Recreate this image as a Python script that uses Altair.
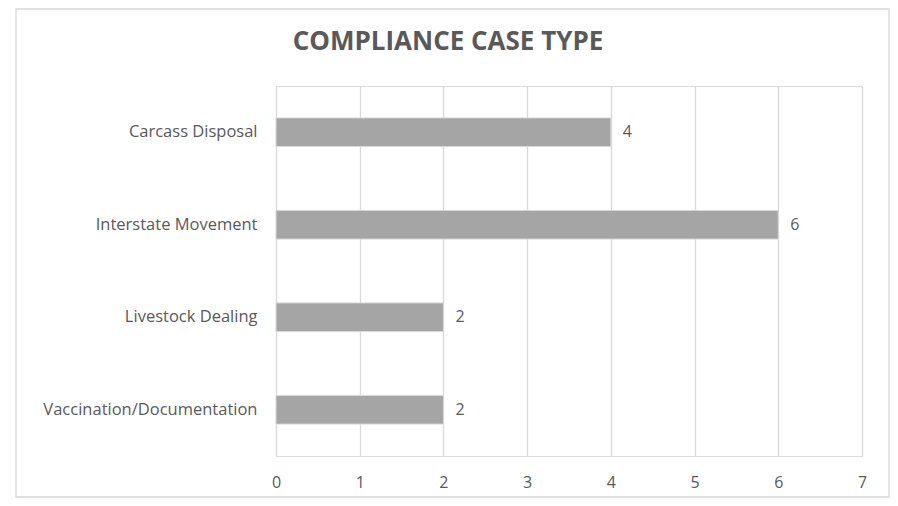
import altair as alt
import pandas as pd

categories = ["Carcass Disposal", "Interstate Movement", "Livestock Dealing", "Vaccination/Documentation"]
values = [4, 6, 2, 2]
x_ticks = [0, 1, 2, 3, 4, 5, 6, 7]

df = pd.DataFrame({"category": categories, "value": values})

FONT = "Open Sans, sans-serif"
TXT = "#595959"
W, H = 586, 370

y_enc = alt.Y("category:N", sort=categories, title=None,
              scale=alt.Scale(paddingInner=0.69, paddingOuter=0.345),
              axis=alt.Axis(labelFont=FONT, labelFontSize=16.5, labelColor=TXT, labelLimit=300,
                            labelPadding=19, ticks=False, domain=False, grid=False))
x_enc = alt.X("value:Q", title=None,
              scale=alt.Scale(domain=[0, 7], nice=False),
              axis=alt.Axis(values=x_ticks, format="d", labelFont=FONT, labelFontSize=16,
                            labelColor=TXT, labelPadding=18, labelFlush=False, ticks=False,
                            domain=False, grid=True, gridColor="#D9D9D9", gridWidth=1.3))

frame = alt.Chart(pd.DataFrame({"a": [0]})).mark_rect(
    fillOpacity=0, stroke="#D9D9D9", strokeWidth=1.3
).encode(x=alt.value(-260), x2=alt.value(613), y=alt.value(-77), y2=alt.value(411))

bars = alt.Chart(df).mark_bar(color="#A5A5A5", stroke="#D9D9D9", strokeWidth=1).encode(
    x=x_enc, y=y_enc
)
labels = alt.Chart(df).mark_text(
    align="left", baseline="middle", dx=12, font=FONT, fontSize=16, color=TXT
).encode(x="value:Q", y=alt.Y("category:N", sort=categories), text="value:Q")

chart = alt.layer(frame, bars, labels).properties(
    width=W, height=H,
    title=alt.TitleParams("COMPLIANCE CASE TYPE", font=FONT, fontSize=26, fontWeight="bold",
                          color=TXT, anchor="middle", baseline="alphabetic",
                          offset=-68, dx=-121),
    autosize=alt.AutoSizeParams(type="none"),
    padding={"left": 268, "top": 78, "right": 28, "bottom": 42},
).configure_view(stroke=None).configure(background="white")

chart.save("out.html", embed_options={"renderer": "svg", "actions": False})
